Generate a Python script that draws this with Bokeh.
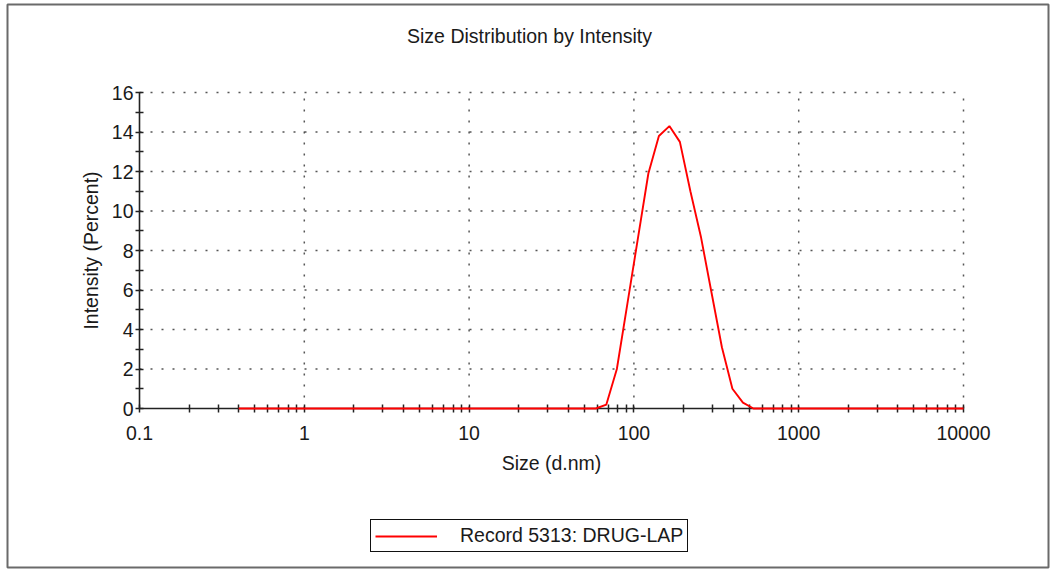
import math
from bokeh.plotting import figure
from bokeh.models import Range1d, FixedTicker, CustomJSTickFormatter, Label
from bokeh.embed import file_html
from bokeh.resources import INLINE

# ---- data ----
title_text = "Size Distribution by Intensity"
x_label = "Size (d.nm)"
y_label = "Intensity (Percent)"
series_name = "Record 5313: DRUG-LAP"

size_nm = [0.4, 0.4632, 0.5365, 0.6213, 0.7195, 0.8332, 0.9649, 1.117, 1.294, 1.499,
           1.736, 2.01, 2.328, 2.696, 3.122, 3.615, 4.187, 4.849, 5.615, 6.503,
           7.531, 8.721, 10.1, 11.7, 13.54, 15.69, 18.17, 21.04, 24.36, 28.21,
           32.67, 37.84, 43.82, 50.75, 58.77, 68.06, 78.82, 91.28, 105.7, 122.4,
           141.8, 164.2, 190.1, 220.2, 255.0, 295.3, 342.0, 396.1, 458.7, 531.2,
           615.1, 712.4, 825.0, 955.4, 1106, 1281, 1484, 1718, 1990, 2305,
           2669, 3091, 3580, 4145, 4801, 5560, 6439, 7456, 8635, 10000]
intensity = [0, 0, 0, 0, 0, 0, 0, 0, 0, 0,
             0, 0, 0, 0, 0, 0, 0, 0, 0, 0,
             0, 0, 0, 0, 0, 0, 0, 0, 0, 0,
             0, 0, 0, 0, 0, 0.2, 2.0, 5.3, 8.6, 11.9,
             13.8, 14.3, 13.5, 11.0, 8.7, 5.9, 3.1, 1.0, 0.3, 0,
             0, 0, 0, 0, 0, 0, 0, 0, 0, 0,
             0, 0, 0, 0, 0, 0, 0, 0, 0, 0]

x_ticks = [0.1, 1, 10, 100, 1000, 10000]
x_minor_ticks = [m * d for d in [0.1, 1, 10, 100, 1000] for m in range(2, 10)]
y_ticks = [0, 2, 4, 6, 8, 10, 12, 14, 16]
y_minor_ticks = [1, 3, 5, 7, 9, 11, 13, 15]

# ---- layout (pixels) ----
W, H = 1052, 569
FRAME_L, FRAME_R, FRAME_T, FRAME_B = 7, 1048, 4, 567      # outer bordered box
AX_L, AX_R, AX_T, AX_B = 139, 963, 92, 408                # data area

FONT = "Liberation Sans"
FS = "19.5px"
TXT = "#1a1a1a"

# ranges so that the data area lands at AX_* inside the bordered frame
lx0, lx1 = math.log10(x_ticks[0]), math.log10(x_ticks[-1])
ppd = (AX_R - AX_L) / (lx1 - lx0)
x_start = 10 ** (lx0 - (AX_L - FRAME_L) / ppd)
x_end = 10 ** (lx1 + (FRAME_R - AX_R) / ppd)
ppu = (AX_B - AX_T) / (y_ticks[-1] - y_ticks[0])
y_start = y_ticks[0] - (FRAME_B - AX_B) / ppu
y_end = y_ticks[-1] + (AX_T - FRAME_T) / ppu

p = figure(width=W, height=H, x_axis_type="log",
           x_range=Range1d(x_start, x_end), y_range=Range1d(y_start, y_end),
           output_backend="svg", toolbar_location=None,
           min_border_left=FRAME_L, min_border_right=W - FRAME_R,
           min_border_top=FRAME_T, min_border_bottom=H - FRAME_B)
p.outline_line_color = "#6a6a6a"
p.outline_line_width = 2
p.background_fill_color = "white"
p.border_fill_color = "white"
p.xgrid.visible = False
p.ygrid.visible = False

# axes anchored on the data area
p.xaxis.fixed_location = y_ticks[0]
p.xaxis.bounds = (x_ticks[0], x_ticks[-1])
p.yaxis.fixed_location = x_ticks[0]
p.yaxis.bounds = (y_ticks[0], y_ticks[-1])
p.xaxis.ticker = FixedTicker(ticks=x_ticks, minor_ticks=x_minor_ticks)
p.xaxis.formatter = CustomJSTickFormatter(code="return Number(tick.toPrecision(6)).toString()")
p.yaxis.ticker = FixedTicker(ticks=y_ticks, minor_ticks=y_minor_ticks)

for ax in (p.xaxis[0], p.yaxis[0]):
    ax.axis_line_color = "#222222"
    ax.axis_line_width = 1.6
    ax.major_tick_line_color = "#222222"
    ax.minor_tick_line_color = "#222222"
    ax.major_tick_line_width = 1.5
    ax.minor_tick_line_width = 1.5
    ax.major_tick_in = 4
    ax.major_tick_out = 4
    ax.minor_tick_in = 4
    ax.minor_tick_out = 4
    ax.major_label_text_font = FONT
    ax.major_label_text_font_size = FS
    ax.major_label_text_color = TXT
    ax.axis_label_text_font = FONT
    ax.axis_label_text_font_size = FS
    ax.axis_label_text_font_style = "normal"
    ax.axis_label_text_color = TXT

p.xaxis.axis_label = x_label
p.xaxis.major_label_standoff = 13
p.xaxis.axis_label_standoff = 9
p.yaxis.axis_label = y_label
p.yaxis.major_label_standoff = 2
p.yaxis.axis_label_standoff = 7

# dotted grid lines at the major ticks, spanning the data area only
grid_kw = dict(line_color="#444444", line_width=1.5, line_dash="2 9", line_alpha=0.9)
p.segment(x0=x_ticks[1:], y0=[y_ticks[0]] * (len(x_ticks) - 1),
          x1=x_ticks[1:], y1=[y_ticks[-1]] * (len(x_ticks) - 1), **grid_kw)
p.segment(x0=[x_ticks[0]] * (len(y_ticks) - 1), y0=y_ticks[1:],
          x1=[x_ticks[-1]] * (len(y_ticks) - 1), y1=y_ticks[1:], **grid_kw)

# data line
r = p.line(size_nm, intensity, line_color="#ff0000", line_width=1.9, legend_label=series_name)
r.level = "overlay"

# title
p.add_layout(Label(x=529 - FRAME_L, y=FRAME_B - 35, x_units="screen", y_units="screen",
                   text=title_text, text_font=FONT, text_font_size=FS, text_color=TXT,
                   text_align="center", text_baseline="middle"))

# legend
lg = p.legend[0]
lg.location = (370 - FRAME_L, FRAME_B - 552)
lg.orientation = "vertical"
lg.border_line_color = "#111111"
lg.border_line_width = 1.5
lg.border_line_alpha = 1
lg.background_fill_color = "white"
lg.background_fill_alpha = 1
lg.padding = 4
lg.margin = 0
lg.glyph_width = 62
lg.glyph_height = 22
lg.label_height = 22
lg.label_standoff = 23
lg.label_text_font = FONT
lg.label_text_font_size = FS
lg.label_text_color = TXT
lg.spacing = 0

open("out.html", "w").write(file_html(p, INLINE))
